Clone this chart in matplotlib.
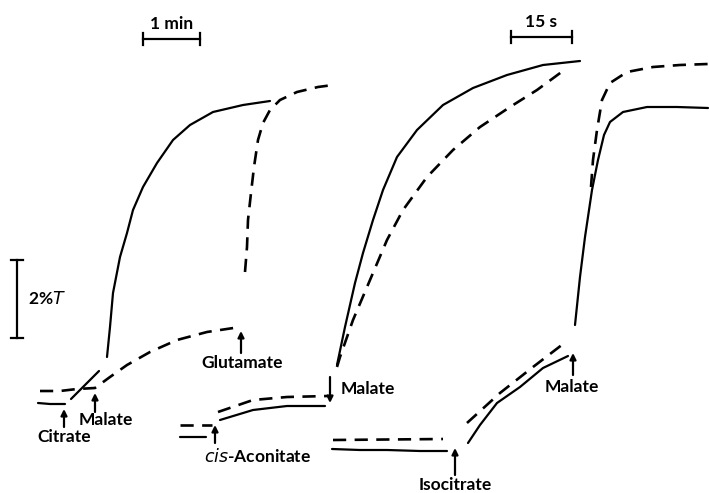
import matplotlib
matplotlib.use("Agg")
import matplotlib.pyplot as plt

# traces, in picture pixels (x right, y down)
# panel 1: citrate / malate / glutamate
p1_solid_base_x = [38, 50, 65]
p1_solid_base_y = [403, 404, 404]
p1_solid_step_x = [71, 85, 99]
p1_solid_step_y = [399, 385, 371]
p1_solid_rise_x = [107, 110, 113, 120, 127, 133, 143, 157, 173, 190, 213, 243, 270]
p1_solid_rise_y = [357, 327, 293, 257, 233, 210, 187, 163, 140, 125, 112, 105, 101]
p1_dash_x = [40, 60, 77, 95, 110, 127, 150, 177, 207, 240]
p1_dash_y = [391, 391, 389, 388, 377, 365, 352, 340, 332, 327]
p1_dash_rise_x = [245, 247, 248, 251, 254, 258, 263, 270, 280, 297, 318, 333]
p1_dash_rise_y = [272, 247, 220, 193, 167, 140, 123, 110, 100, 92, 87, 85]

# panel 2: cis-aconitate / malate
p2_solid_base_x = [180, 206]
p2_solid_base_y = [437, 437]
p2_dash_base_x = [180, 212]
p2_dash_base_y = [425, 425]
p2_solid_x = [220, 253, 287, 325]
p2_solid_y = [420, 410, 406, 406]
p2_dash_x = [218, 253, 287, 328]
p2_dash_y = [412, 400, 397, 396]
p2_solid_rise_x = [337, 345, 355, 363, 373, 383, 397, 417, 443, 473, 507, 543, 580]
p2_solid_rise_y = [365, 327, 283, 253, 220, 190, 157, 130, 105, 88, 75, 65, 61]
p2_dash_rise_x = [337, 340, 353, 370, 387, 403, 427, 453, 480, 510, 537, 567]
p2_dash_rise_y = [367, 357, 320, 280, 240, 210, 177, 150, 127, 107, 90, 68]

# panel 3: isocitrate / malate
p3_solid_base_x = [332, 360, 387, 420, 447]
p3_solid_base_y = [449, 450, 450, 451, 451]
p3_dash_base_x = [333, 443]
p3_dash_base_y = [440, 439]
p3_solid_x = [468, 480, 497, 520, 543, 568]
p3_solid_y = [443, 425, 403, 387, 368, 356]
p3_dash_x = [467, 500, 533, 567]
p3_dash_y = [423, 393, 367, 341]
p3_solid_rise_x = [575, 580, 585, 592, 598, 604, 610, 623, 647, 677, 708]
p3_solid_rise_y = [325, 277, 237, 190, 160, 135, 122, 112, 107, 107, 108]
p3_dash_rise_x = [591, 593, 597, 602, 610, 627, 653, 680, 708]
p3_dash_rise_y = [187, 160, 130, 100, 83, 72, 67, 65, 64]

# additions: (label, arrow tail, arrow tip, label position)
arrows = [
    ("Citrate", (64, 427), (64, 409), (64, 437)),
    ("Malate", (95, 412), (95, 393), (106, 420)),
    ("Glutamate", (241, 353), (241, 331), (242, 363)),
    ("$\\it{cis}$-Aconitate", (215, 443), (215, 425), (258, 456)),
    ("Malate", (330, 377), (330, 403), (368, 389)),
    ("Isocitrate", (455, 475), (455, 448), (455, 485)),
    ("Malate", (573, 375), (573, 353), (572, 387)),
]

FONT = "Lato"
FS = 12.5
lw = 1.6
dash = (5, 3.2)

fig = plt.figure(figsize=(7.09, 4.93), dpi=100)
ax = fig.add_axes([0, 0, 1, 1])
ax.set_xlim(0, 709)
ax.set_ylim(493, 0)
ax.axis("off")

solids = [
    (p1_solid_base_x, p1_solid_base_y), (p1_solid_step_x, p1_solid_step_y),
    (p1_solid_rise_x, p1_solid_rise_y), (p2_solid_base_x, p2_solid_base_y),
    (p2_solid_x, p2_solid_y), (p2_solid_rise_x, p2_solid_rise_y),
    (p3_solid_base_x, p3_solid_base_y), (p3_solid_x, p3_solid_y),
    (p3_solid_rise_x, p3_solid_rise_y),
]
dashed = [
    (p1_dash_x, p1_dash_y), (p1_dash_rise_x, p1_dash_rise_y),
    (p2_dash_base_x, p2_dash_base_y), (p2_dash_x, p2_dash_y),
    (p2_dash_rise_x, p2_dash_rise_y), (p3_dash_base_x, p3_dash_base_y),
    (p3_dash_x, p3_dash_y), (p3_dash_rise_x, p3_dash_rise_y),
]
for xs, ys in solids:
    ax.plot(xs, ys, color="black", lw=lw, solid_capstyle="round",
            solid_joinstyle="round")
for xs, ys in dashed:
    ax.plot(xs, ys, color="black", lw=lw + 0.3, dashes=dash)

for label, tail, tip, pos in arrows:
    ax.annotate("", xy=tip, xytext=tail,
                arrowprops=dict(arrowstyle="-|>", color="black", lw=1.6,
                                mutation_scale=9, shrinkA=0, shrinkB=0))
    ax.text(pos[0], pos[1], label, ha="center", va="center", fontsize=FS,
            fontweight="bold", family=FONT)

# scale bars
ax.plot([17, 17], [260, 338], color="black", lw=1.6)
ax.plot([11, 23], [260, 260], color="black", lw=1.6)
ax.plot([11, 23], [338, 338], color="black", lw=1.6)
ax.text(28, 299, "2%$\\it{T}$", ha="left", va="center", fontsize=FS,
        fontweight="bold", family=FONT)

ax.plot([143, 200], [39, 39], color="black", lw=1.6)
ax.plot([143, 143], [33, 45], color="black", lw=1.6)
ax.plot([200, 200], [33, 45], color="black", lw=1.6)
ax.text(172, 24, "1 min", ha="center", va="center", fontsize=FS,
        fontweight="bold", family=FONT)

ax.plot([511, 572], [37, 37], color="black", lw=1.6)
ax.plot([511, 511], [31, 43], color="black", lw=1.6)
ax.plot([572, 572], [31, 43], color="black", lw=1.6)
ax.text(541, 22, "15 s", ha="center", va="center", fontsize=FS,
        fontweight="bold", family=FONT)

fig.savefig("out.png", dpi=100)
